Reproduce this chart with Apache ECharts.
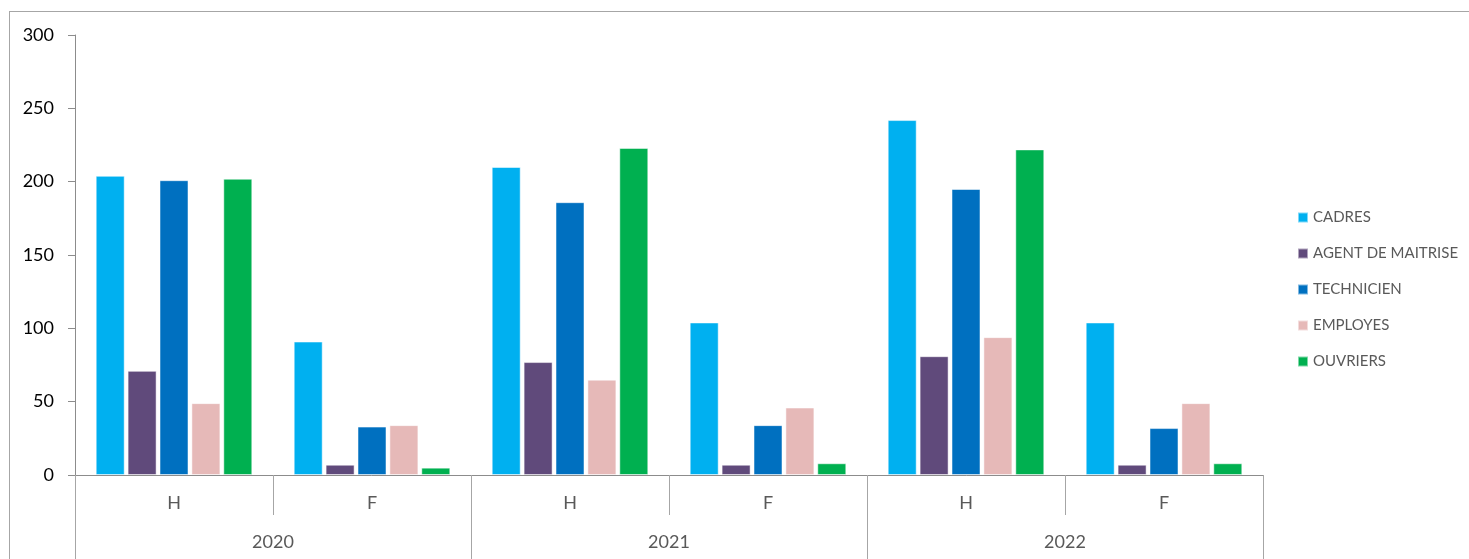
<!DOCTYPE html>
<html>
<head>
<meta charset="utf-8">
<script src="https://cdn.jsdelivr.net/npm/echarts@6/dist/echarts.min.js"></script>
<style>
html,body{margin:0;padding:0;background:#fff;overflow:hidden;}
#frame{position:absolute;left:9px;top:11px;width:2000px;height:1000px;border-left:1px solid #a6a6a6;border-top:1px solid #a6a6a6;}
#chart{position:absolute;left:0;top:0;width:1469px;height:559px;}
</style>
</head>
<body>
<div id="frame"></div>
<div id="chart"></div>
<script>
const subCategories = ['H', 'F', 'H', 'F', 'H', 'F'];
const years = ['2020', '2021', '2022'];
const yTicks = { min: 0, max: 300, interval: 50 };

const cadres = [204, 91, 210, 104, 242, 104];
const agentMaitrise = [71, 7, 77, 7, 81, 7];
const technicien = [201, 33, 186, 34, 195, 32];
const employes = [49, 34, 65, 46, 94, 49];
const ouvriers = [202, 5, 223, 8, 222, 8];

const seriesNames = ['CADRES', 'AGENT DE MAITRISE', 'TECHNICIEN', 'EMPLOYES', 'OUVRIERS'];
const seriesData = [cadres, agentMaitrise, technicien, employes, ouvriers];
const colors = ['#00B0F0', '#604A7B', '#0070C0', '#E6B9B8', '#00B050'];

const font = 'Lato, "Noto Sans", sans-serif';
const chart = echarts.init(document.getElementById('chart'), null, { renderer: 'canvas' });

chart.setOption({
  animation: false,
  color: colors,
  grid: { left: 75, right: 206, top: 35, bottom: 84, containLabel: false },
  legend: {
    orient: 'vertical',
    left: 1297,
    top: 210,
    padding: 0,
    itemWidth: 10,
    itemHeight: 10,
    itemGap: 21,
    icon: 'rect',
    textStyle: { color: '#595959', fontSize: 15, fontFamily: font },
    data: seriesNames
  },
  xAxis: [
    {
      type: 'category',
      data: subCategories,
      position: 'bottom',
      axisLine: { show: true, lineStyle: { color: '#8c8c8c', width: 1 } },
      axisTick: { show: true, length: 40, alignWithLabel: false, lineStyle: { color: '#a6a6a6' } },
      axisLabel: { color: '#595959', fontSize: 18, fontFamily: font, margin: 19 },
      splitLine: { show: false }
    },
    {
      type: 'category',
      data: years,
      position: 'bottom',
      axisLine: { show: false },
      axisTick: { show: true, length: 90, alignWithLabel: false, lineStyle: { color: '#a6a6a6' } },
      axisLabel: { color: '#595959', fontSize: 18, fontFamily: font, margin: 58 },
      splitLine: { show: false }
    }
  ],
  yAxis: {
    type: 'value',
    min: yTicks.min,
    max: yTicks.max,
    interval: yTicks.interval,
    axisLine: { show: true, lineStyle: { color: '#8c8c8c' } },
    axisTick: { show: true, length: 7, lineStyle: { color: '#8c8c8c' } },
    axisLabel: { color: '#000', fontSize: 18, fontFamily: font, margin: 21 },
    splitLine: { show: false }
  },
  series: seriesNames.map((name, i) => ({
    name: name,
    type: 'bar',
    xAxisIndex: 0,
    data: seriesData[i],
    barWidth: 29,
    barGap: '10%',
    itemStyle: { color: colors[i], borderColor: 'rgba(255,255,255,0.5)', borderWidth: 1 }
  }))
});
</script>
</body>
</html>
